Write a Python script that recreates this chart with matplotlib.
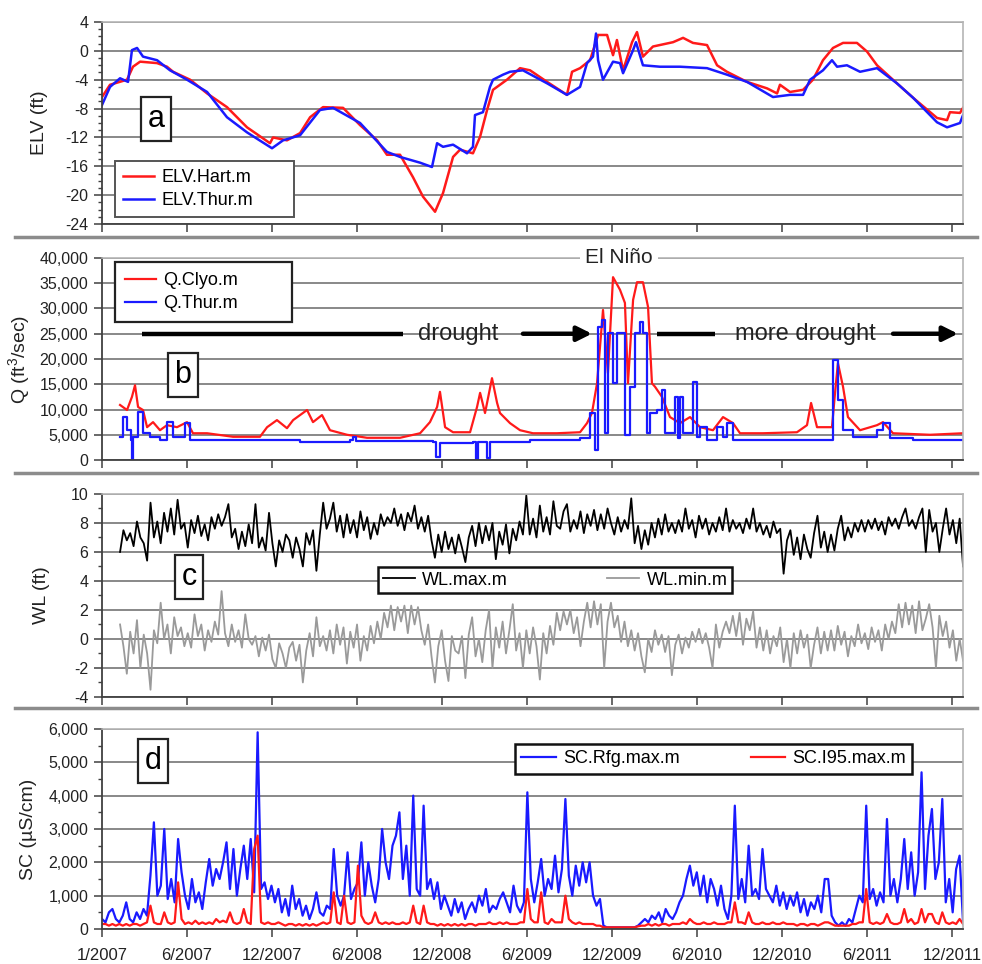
import numpy as np
import matplotlib
matplotlib.use("Agg")
import matplotlib.pyplot as plt
from matplotlib.lines import Line2D
from matplotlib.ticker import MultipleLocator, FuncFormatter

plt.rcParams['font.family'] = ['Liberation Sans', 'DejaVu Sans']
plt.rcParams['axes.unicode_minus'] = False
plt.rcParams['mathtext.default'] = 'regular'

# time axis in years since 1/2007
tick_pos = [0, 0.5, 1.0, 1.5, 2.0, 2.5, 3.0, 3.5, 4.0, 4.5, 5.0]
tick_labels = ['1/2007', '6/2007', '12/2007', '6/2008', '12/2008', '6/2009',
               '12/2009', '6/2010', '12/2010', '6/2011', '12/2011']
x_end = 5.065

# (a) stage, ft
hart_t = [0, 0.047, 0.147, 0.182, 0.224, 0.324, 0.382, 0.418, 0.518, 0.618, 0.735, 0.853,
          0.988, 1.006, 1.088, 1.165, 1.224, 1.300, 1.418, 1.518, 1.618, 1.676, 1.753, 1.829,
          1.888, 1.959, 2.006, 2.065, 2.106, 2.182, 2.224, 2.265, 2.300, 2.382, 2.459, 2.518,
          2.618, 2.735, 2.765, 2.812, 2.871, 2.918, 2.971, 3.006, 3.029, 3.065, 3.118, 3.147,
          3.182, 3.241, 3.359, 3.418, 3.476, 3.559, 3.618, 3.676, 3.794, 3.912, 3.971, 3.988,
          4.047, 4.124, 4.182, 4.241, 4.300, 4.359, 4.441, 4.500, 4.559, 4.676, 4.771, 4.912,
          4.971, 4.988, 5.047, 5.065]
hart = [-6.4, -4.7, -4.0, -2.2, -1.5, -1.7, -2.2, -2.9, -4.0, -5.9, -7.8, -10.6,
        -12.8, -12.0, -12.4, -11.4, -9.2, -7.8, -7.9, -10.3, -12.4, -14.4, -14.4, -17.5,
        -20.2, -22.3, -19.7, -14.7, -13.7, -14.2, -11.9, -8.2, -5.4, -4.0, -2.4, -2.7,
        -4.3, -6.1, -2.9, -2.4, -1.3, 2.2, 2.2, -0.6, 1.5, -2.7, 1.2, 2.6,
        -0.8, 0.6, 1.2, 1.8, 1.1, 0.8, -2.0, -2.9, -4.3, -5.2, -5.9, -4.7,
        -5.7, -5.4, -4.0, -1.3, 0.4, 1.1, 1.1, -0.1, -2.0, -4.5, -6.5, -9.3,
        -9.6, -8.5, -8.6, -7.9]
thur_t = [0, 0.047, 0.106, 0.153, 0.176, 0.206, 0.241, 0.324, 0.400, 0.500, 0.618, 0.735,
          0.853, 1.000, 1.065, 1.165, 1.282, 1.359, 1.518, 1.676, 1.753, 1.871, 1.941, 1.971,
          2.006, 2.065, 2.147, 2.182, 2.194, 2.241, 2.282, 2.300, 2.359, 2.400, 2.476, 2.618,
          2.735, 2.812, 2.853, 2.888, 2.906, 2.918, 2.947, 3.006, 3.047, 3.065, 3.124, 3.141,
          3.182, 3.282, 3.400, 3.559, 3.676, 3.794, 3.947, 4.047, 4.124, 4.165, 4.241, 4.294,
          4.324, 4.382, 4.459, 4.559, 4.676, 4.771, 4.912, 4.971, 5.047, 5.065]
thur = [-7.5, -5.0, -3.8, -4.3, 0.1, 0.4, -0.8, -1.3, -2.7, -4.0, -5.7, -9.2,
        -11.3, -13.5, -12.4, -11.7, -8.2, -7.9, -10.0, -14.0, -14.7, -15.5, -16.1, -12.8,
        -13.3, -13.0, -14.2, -13.3, -8.9, -8.5, -5.0, -4.0, -3.3, -2.9, -2.7, -4.5,
        -6.1, -5.0, -1.7, -0.8, 2.4, -1.3, -4.0, -1.5, -1.7, -3.1, 0.1, 1.2,
        -2.0, -2.2, -2.2, -2.4, -3.3, -4.3, -6.4, -6.1, -6.1, -4.0, -2.7, -1.3,
        -2.2, -2.0, -2.9, -2.4, -4.5, -6.5, -9.9, -10.6, -10.0, -8.9]

# (b) flow, ft3/sec
clyo_t = [0.106, 0.147, 0.176, 0.194, 0.212, 0.241, 0.265, 0.300, 0.341, 0.382, 0.441, 0.500,
          0.535, 0.618, 0.771, 0.929, 0.971, 1.029, 1.088, 1.124, 1.165, 1.206, 1.241, 1.294,
          1.341, 1.441, 1.559, 1.753, 1.871, 1.929, 1.971, 1.988, 2.018, 2.065, 2.165, 2.206,
          2.224, 2.253, 2.294, 2.324, 2.341, 2.400, 2.459, 2.535, 2.676, 2.812, 2.853, 2.882,
          2.912, 2.947, 2.976, 3.006, 3.047, 3.076, 3.094, 3.124, 3.147, 3.182, 3.212, 3.235,
          3.253, 3.294, 3.341, 3.400, 3.459, 3.518, 3.594, 3.653, 3.712, 3.753, 3.888, 4.088,
          4.147, 4.171, 4.206, 4.294, 4.312, 4.329, 4.359, 4.388, 4.459, 4.559, 4.594, 4.653,
          4.871, 5.065]
clyo = [10900, 9900, 12500, 14800, 10500, 9900, 6500, 7500, 5900, 6900, 6500, 7500,
        5300, 5300, 4600, 4600, 6500, 7900, 6300, 7900, 8900, 9900, 7500, 8900,
        5900, 5000, 4400, 4400, 5300, 7500, 10500, 13500, 6500, 5500, 5500, 10500,
        13300, 9300, 16200, 11300, 9300, 7300, 5900, 5300, 5300, 5500, 7300, 9300,
        15200, 29700, 17200, 36200, 33700, 31100, 15200, 31700, 35200, 35200, 30300, 15200,
        14500, 12500, 8500, 7300, 8500, 6500, 5900, 8500, 7300, 5300, 5300, 5500,
        6900, 11300, 6500, 6500, 13300, 19200, 14500, 8500, 5900, 6900, 7500, 5300,
        5000, 5300]
qthur_t = [0.106, 0.124, 0.147, 0.171, 0.176, 0.182, 0.212, 0.241, 0.282, 0.341, 0.382, 0.418,
           0.488, 0.518, 0.771, 1.165, 1.459, 1.476, 1.494, 1.753, 1.947, 1.965, 1.988, 2.182,
           2.200, 2.212, 2.259, 2.265, 2.282, 2.418, 2.518, 2.812, 2.871, 2.900, 2.918, 2.941,
           2.959, 2.976, 3.006, 3.029, 3.059, 3.076, 3.106, 3.135, 3.165, 3.182, 3.206, 3.224,
           3.265, 3.294, 3.312, 3.371, 3.388, 3.400, 3.418, 3.476, 3.500, 3.518, 3.559, 3.618,
           3.653, 3.676, 3.712, 4.282, 4.300, 4.329, 4.359, 4.418, 4.559, 4.594, 4.635, 4.771,
           5.065]
qthur = [4600, 8500, 5900, 4000, 0, 4600, 9500, 5300, 4600, 4000, 7500, 4600,
         7300, 4000, 4000, 3600, 4000, 4600, 3800, 3800, 3600, 600, 3400, 3600,
         0, 3600, 3600, 400, 3600, 3600, 4000, 4400, 9300, 2000, 26300, 27700,
         5300, 25100, 15200, 25100, 25100, 5000, 14500, 25100, 27300, 25100, 5300, 9300,
         9900, 13900, 5300, 12500, 4400, 12500, 5300, 15400, 4600, 6500, 4000, 6500,
         4600, 7300, 4000, 4000, 19800, 11900, 5900, 4600, 5900, 7300, 4400, 4000,
         4000]

# (c) water level, ft (about weekly from 2/2007)
wl_max = [6.0, 7.5, 6.8, 7.3, 6.4, 8.1, 7.0, 6.6, 5.4, 9.4,
          7.0, 8.1, 6.6, 8.7, 7.4, 9.0, 7.2, 9.6, 7.6, 8.0,
          6.3, 8.2, 7.3, 8.5, 7.1, 7.9, 6.8, 8.4, 7.6, 8.6,
          7.8, 8.4, 9.3, 7.0, 7.6, 6.2, 7.4, 6.4, 7.9, 6.6,
          9.3, 6.3, 7.0, 6.1, 8.7, 6.6, 5.0, 6.8, 6.0, 7.2,
          6.8, 5.6, 7.0, 6.2, 5.0, 7.3, 6.5, 7.5, 4.7, 7.2,
          9.4, 7.6, 8.3, 9.4, 7.4, 8.5, 7.0, 8.6, 7.3, 8.2,
          7.0, 8.8, 7.5, 8.4, 6.9, 8.0, 7.2, 8.6, 7.8, 8.4,
          8.0, 9.0, 7.8, 8.6, 7.5, 8.7, 8.1, 9.2, 7.6, 8.4,
          7.4, 8.5, 6.8, 5.6, 7.2, 6.0, 7.4, 6.2, 7.0, 5.9,
          7.2, 6.3, 5.3, 7.0, 7.8, 6.4, 8.0, 6.6, 7.8, 6.8,
          8.0, 5.5, 7.4, 6.5, 7.9, 5.9, 7.6, 6.8, 8.1, 7.2,
          9.9, 7.2, 8.3, 7.0, 9.2, 7.4, 8.4, 7.2, 9.5, 7.8,
          7.6, 8.8, 9.3, 7.4, 8.2, 7.6, 8.8, 7.3, 8.6, 7.8,
          8.9, 7.5, 8.6, 7.6, 9.0, 8.0, 7.2, 8.4, 7.4, 8.2,
          7.6, 9.7, 6.6, 7.8, 6.2, 7.5, 6.5, 8.0, 7.0, 8.3,
          7.2, 8.6, 7.4, 8.0, 7.3, 8.2, 7.4, 9.0, 7.6, 8.2,
          7.0, 8.5, 7.6, 8.3, 7.2, 8.0, 7.4, 8.4, 7.5, 9.0,
          7.4, 8.2, 7.6, 8.0, 7.3, 8.3, 7.6, 9.0, 7.4, 8.0,
          7.2, 7.8, 7.0, 8.1, 7.3, 7.6, 4.5, 6.8, 7.5, 5.8,
          7.0, 5.5, 7.2, 6.2, 5.6, 7.3, 8.5, 6.3, 7.4, 6.0,
          7.2, 6.1, 7.6, 8.5, 6.8, 7.7, 7.0, 8.0, 7.4, 8.2,
          7.4, 8.2, 7.6, 8.3, 7.5, 8.1, 7.2, 8.4, 7.8, 8.3,
          7.6, 8.4, 9.0, 7.8, 8.2, 7.6, 8.4, 9.0, 6.0, 8.9,
          7.4, 8.0, 6.0, 7.6, 9.0, 7.2, 8.2, 6.6, 8.3, 5.0]
wl_min = [1.0, -0.5, -2.4, 0.5, -1.0, 1.3, -2.0, 0.3, -1.0, -3.5,
          0.6, -0.3, 2.5, 0.0, 1.0, -1.0, 1.5, 0.2, 0.8, -0.5,
          0.4, -0.6, 1.7, 0.2, 1.0, -0.8, 0.6, -0.2, 1.2, 0.3,
          3.3, 0.4, -0.5, 1.0, -0.2, 0.6, -0.6, 1.7, 0.0, -0.4,
          0.2, -1.2, 0.1, -0.8, 0.3, -1.4, -2.0, -0.3, -1.0, -2.0,
          -0.6, -0.2, -1.5, -0.4, -3.0, -0.8, 0.4, -1.2, 1.5, -0.5,
          0.2, -0.8, 0.6, -1.0, 1.0, -0.4, 0.8, -1.7, 0.5, -0.6,
          1.0, -1.5, 0.2, -0.8, 0.9, -0.3, 1.2, 0.0, 1.8, 0.8,
          2.3, 0.6, 2.2, 1.2, 2.3, 0.4, 2.3, 1.0, 2.2, 0.6,
          -0.4, 1.0, -1.2, -3.0, -0.5, 0.6, -1.5, -2.9, 0.2, -0.8,
          -1.0, 0.2, -2.7, 0.3, 1.5, -1.2, 0.0, -1.6, 0.6, 2.0,
          -2.0, 0.8, -0.6, 1.2, -1.0, 0.6, 2.4, -0.8, 0.4, -2.0,
          0.6, -1.0, 0.8, -0.5, -2.8, 0.4, -1.0, 0.9, -0.4, 1.8,
          0.6, 1.9, 1.0, 2.0, 0.4, 1.5, -0.5, 1.2, 2.5, 0.8,
          2.6, 1.0, 2.4, -2.0, 1.2, 2.5, 0.8, 1.6, -0.2, 1.2,
          -0.5, 0.6, -0.8, 0.4, -1.2, -2.3, 0.0, -0.9, 0.6, -0.4,
          0.3, -0.9, 0.2, -2.5, -0.4, 0.3, -1.0, 0.1, -0.6, 0.5,
          -0.2, 0.7, -0.3, 0.4, -0.6, -2.0, 1.0, -0.6, 0.5, 1.2,
          0.4, 1.6, 0.2, 1.8, -0.4, 1.4, 0.6, 1.9, -0.6, 0.8,
          -0.8, 0.6, -1.0, 0.2, -0.5, 0.8, -1.6, 0.0, -2.0, 0.4,
          -1.0, 0.6, -0.6, 0.3, -2.0, -0.4, 0.8, -1.0, 0.5, -0.8,
          0.6, -0.8, 0.9, -0.4, 0.5, -1.2, 0.2, -0.5, 1.0, -0.3,
          0.4, -0.7, 0.8, -0.2, 0.6, -0.8, 1.0, 0.0, 1.2, 0.4,
          2.4, 0.8, 2.5, 1.0, 2.3, 0.4, 2.6, 0.6, 1.4, 2.4,
          0.8, -2.0, 1.6, 0.2, 1.2, -0.6, 0.6, -1.5, 0.0, -1.5]
wl_start = 0.106

# (d) specific conductance, uS/cm (about weekly from 1/2007)
sc_rfg = [300, 200, 500, 600, 300, 200, 400, 800, 300, 200,
          500, 300, 600, 400, 1600, 3200, 1000, 1300, 3000, 900,
          1500, 800, 2700, 1700, 1000, 600, 1500, 800, 1100, 600,
          1400, 2100, 1300, 1800, 1500, 2000, 2600, 1200, 2400, 1000,
          1800, 2500, 1500, 2700, 1100, 5900, 1200, 1400, 900, 1300,
          800, 1200, 500, 900, 400, 1300, 600, 900, 400, 700,
          300, 600, 1100, 500, 400, 700, 600, 2400, 1000, 700,
          1000, 2300, 900, 1200, 1400, 2600, 1000, 2000, 1300, 800,
          1500, 3000, 2000, 1500, 2500, 2800, 3500, 1500, 2500, 1000,
          4000, 1200, 1000, 3700, 1200, 1500, 900, 1400, 600, 1000,
          700, 400, 900, 500, 800, 300, 600, 800, 500, 1000,
          700, 1200, 500, 700, 600, 900, 1100, 800, 500, 1300,
          700, 500, 800, 4100, 1500, 800, 1400, 2100, 1000, 1500,
          1200, 2200, 1100, 1800, 3900, 1600, 1000, 1900, 1300, 2000,
          1400, 2000, 1000, 700, 900, 100, 50, 50, 50, 50,
          50, 50, 50, 50, 50, 100, 200, 300, 200, 400,
          300, 500, 200, 600, 400, 300, 500, 800, 1000, 1500,
          1900, 1300, 1700, 1000, 1600, 800, 1500, 1200, 700, 1300,
          600, 300, 1000, 3700, 900, 1500, 800, 2500, 1000, 1200,
          900, 2400, 1200, 1000, 800, 1300, 700, 1100, 600, 1000,
          700, 1100, 500, 900, 400, 800, 600, 1000, 500, 1500,
          1500, 400, 200, 100, 200, 100, 300, 200, 600, 1000,
          800, 3700, 900, 1200, 700, 1100, 800, 3300, 1000, 1500,
          800, 1500, 2700, 1200, 2300, 1000, 1700, 4700, 1200, 2800,
          3600, 1500, 2000, 3900, 800, 1500, 500, 1800, 2200, 200]
sc_i95 = [150, 150, 100, 150, 100, 150, 100, 150, 100, 150,
          150, 100, 150, 200, 700, 200, 150, 150, 500, 200,
          150, 200, 1400, 300, 150, 200, 150, 250, 150, 200,
          150, 200, 150, 300, 200, 250, 200, 500, 200, 150,
          200, 600, 200, 150, 2400, 2800, 200, 150, 200, 150,
          150, 200, 150, 100, 150, 150, 100, 150, 100, 150,
          100, 150, 100, 150, 200, 150, 200, 1100, 200, 150,
          1000, 200, 150, 200, 1900, 400, 200, 150, 200, 500,
          200, 150, 200, 150, 200, 150, 150, 200, 150, 200,
          700, 200, 150, 700, 200, 150, 150, 100, 150, 100,
          150, 100, 150, 100, 150, 100, 150, 150, 100, 150,
          150, 150, 200, 150, 150, 200, 150, 200, 150, 150,
          150, 200, 200, 1200, 300, 200, 200, 1100, 200, 150,
          300, 200, 200, 200, 1000, 300, 200, 150, 200, 150,
          150, 150, 150, 100, 100, 50, 50, 50, 50, 50,
          50, 50, 50, 50, 50, 80, 100, 100, 150, 100,
          150, 100, 150, 150, 100, 150, 150, 150, 200, 150,
          300, 200, 150, 150, 200, 150, 150, 200, 150, 150,
          150, 200, 200, 800, 200, 200, 150, 500, 200, 150,
          150, 200, 150, 150, 200, 150, 150, 200, 150, 150,
          150, 100, 150, 150, 100, 150, 150, 100, 150, 200,
          200, 150, 100, 100, 100, 100, 100, 150, 150, 200,
          200, 1200, 200, 150, 200, 150, 200, 450, 200, 150,
          150, 200, 600, 200, 300, 150, 200, 600, 200, 450,
          450, 200, 150, 500, 200, 150, 200, 150, 300, 150]

RED = '#ff1a1a'
BLUE = '#1a1aff'
GRID = '#7f7f7f'

fig = plt.figure(figsize=(9.82, 9.64), dpi=100)
left, width = 0.1039, 0.8768
ax_a = fig.add_axes([left, 0.7676, width, 0.2096])
ax_b = fig.add_axes([left, 0.5228, width, 0.2096])
ax_c = fig.add_axes([left, 0.2770, width, 0.2106])
ax_d = fig.add_axes([left, 0.0363, width, 0.2075])

comma = FuncFormatter(lambda v, p: f'{v:,.0f}')


def style(ax, ylo, yhi, major, minor, label, label_x, fmt=None):
    ax.set_xlim(0, x_end)
    ax.set_ylim(ylo, yhi)
    ax.yaxis.set_major_locator(MultipleLocator(major))
    if minor:
        ax.yaxis.set_minor_locator(MultipleLocator(minor))
    if fmt:
        ax.yaxis.set_major_formatter(fmt)
    ax.set_xticks(tick_pos)
    ax.set_xticklabels(tick_labels if ax is ax_d else [])
    ax.yaxis.grid(True, color=GRID, lw=1.3)
    ax.set_axisbelow(True)
    ax.tick_params(axis='y', which='major', length=6, width=1.1, color='#404040',
                   labelsize=11.5, labelcolor='#222222', pad=4)
    ax.tick_params(axis='y', which='minor', length=3, width=1.0, color='#404040')
    ax.tick_params(axis='x', length=6, width=1.1, color='#404040', labelsize=12,
                   labelcolor='#222222', pad=8)
    for s in ('top', 'right'):
        ax.spines[s].set_color('#b5b5b5')
        ax.spines[s].set_linewidth(1.2)
    for s in ('left', 'bottom'):
        ax.spines[s].set_color('#404040')
        ax.spines[s].set_linewidth(1.3)
    ax.set_ylabel(label, fontsize=14, color='#222222')
    ax.yaxis.set_label_coords(label_x, 0.5)


def tag(ax, letter, fx, fy):
    ax.text(fx, fy, letter, transform=ax.transAxes, fontsize=22, ha='center', va='center',
            bbox=dict(boxstyle='square,pad=0.22', fc='white', ec='#222222', lw=1.6), zorder=6)


def frame(leg, color='#222222', lw=1.6):
    f = leg.get_frame()
    f.set_edgecolor(color)
    f.set_linewidth(lw)
    f.set_alpha(1)
    leg.set_zorder(7)


# (a)
ax_a.plot(hart_t, hart, color=RED, lw=1.8, label='ELV.Hart.m')
ax_a.plot(thur_t, thur, color=BLUE, lw=1.8, label='ELV.Thur.m')
style(ax_a, -24, 4, 4, 1, 'ELV (ft)', -0.063)
leg = ax_a.legend(loc='lower left', bbox_to_anchor=(0.0151, 0.035, 0.208, 0.5), mode='expand',
                  borderaxespad=0, fontsize=13, fancybox=False, handlelength=1.7,
                  labelspacing=0.3, borderpad=0.45, handletextpad=0.4)
frame(leg, '#555555', 1.4)
tag(ax_a, 'a', 0.063, 0.52)

# (b)
ax_b.plot(clyo_t, clyo, color=RED, lw=1.6, label='Q.Clyo.m')
ax_b.plot(qthur_t, qthur, color=BLUE, lw=1.6, drawstyle='steps-post', label='Q.Thur.m')
style(ax_b, 0, 40000, 5000, None, 'Q (ft$^3$/sec)', -0.081, comma)
leg = ax_b.legend(loc='upper left', bbox_to_anchor=(0.0151, 0.48, 0.2056, 0.5), mode='expand',
                  borderaxespad=0, fontsize=13, fancybox=False, handlelength=1.7,
                  labelspacing=0.35, borderpad=0.55, handletextpad=0.4)
frame(leg)
tag(ax_b, 'b', 0.094, 0.42)

arrow_y = 25000
ax_b.plot([0.235, 1.771], [arrow_y, arrow_y], color='black', lw=3.2, solid_capstyle='butt')
ax_b.plot([3.265, 3.606], [arrow_y, arrow_y], color='black', lw=3.2, solid_capstyle='butt')
for x0, x1 in [(2.476, 2.882), (4.653, 5.035)]:
    ax_b.annotate('', xy=(x1, arrow_y), xytext=(x0, arrow_y),
                  arrowprops=dict(arrowstyle='-|>', lw=3.2, color='black', mutation_scale=22,
                                  shrinkA=0, shrinkB=0))
ax_b.text(2.094, arrow_y, 'drought', fontsize=17, ha='center', va='center', color='#222222')
ax_b.text(4.135, arrow_y, 'more drought', fontsize=17, ha='center', va='center', color='#222222')
ax_b.text(3.04, 1.0, 'El Niño', transform=ax_b.get_xaxis_transform(), fontsize=15,
          ha='center', va='center', color='#222222',
          bbox=dict(boxstyle='square,pad=0.25', fc='white', ec='none'), zorder=8, clip_on=False)

# (c)
wl_t = np.linspace(wl_start, x_end, len(wl_max))
ax_c.plot(wl_t, wl_max, color='black', lw=1.3, label='WL.max.m')
ax_c.plot(wl_t, wl_min, color='#9a9a9a', lw=1.3, label='WL.min.m')
style(ax_c, -4, 10, 2, 1, 'WL (ft)', -0.060)
leg = ax_c.legend(loc='center', bbox_to_anchor=(0.3206, 0.526, 0.411, 0.1), mode='expand',
                  borderaxespad=0, ncol=2, fontsize=13, fancybox=False, handlelength=1.8,
                  borderpad=0.25, handletextpad=0.4)
frame(leg, '#111111', 1.8)
tag(ax_c, 'c', 0.101, 0.59)

# (d)
sc_t = np.linspace(0, x_end, len(sc_rfg))
ax_d.plot(sc_t, sc_rfg, color=BLUE, lw=1.6, label='SC.Rfg.max.m')
ax_d.plot(sc_t, sc_i95, color=RED, lw=1.6, label='SC.I95.max.m')
style(ax_d, 0, 6000, 1000, 500, 'SC (µS/cm)', -0.0755, comma)
leg = ax_d.legend(loc='center', bbox_to_anchor=(0.4797, 0.80, 0.461, 0.1), mode='expand',
                  borderaxespad=0, ncol=2, fontsize=13, fancybox=False, handlelength=1.9,
                  borderpad=0.35, handletextpad=0.4)
frame(leg, '#111111', 1.8)
tag(ax_d, 'd', 0.059, 0.84)

# gray separators between the panels
for yf in (0.7541, 0.5093, 0.2656):
    fig.add_artist(Line2D([0.015, 0.995], [yf, yf], transform=fig.transFigure,
                          color='#8c8c8c', lw=2.5))

fig.savefig('out.png', dpi=100)
